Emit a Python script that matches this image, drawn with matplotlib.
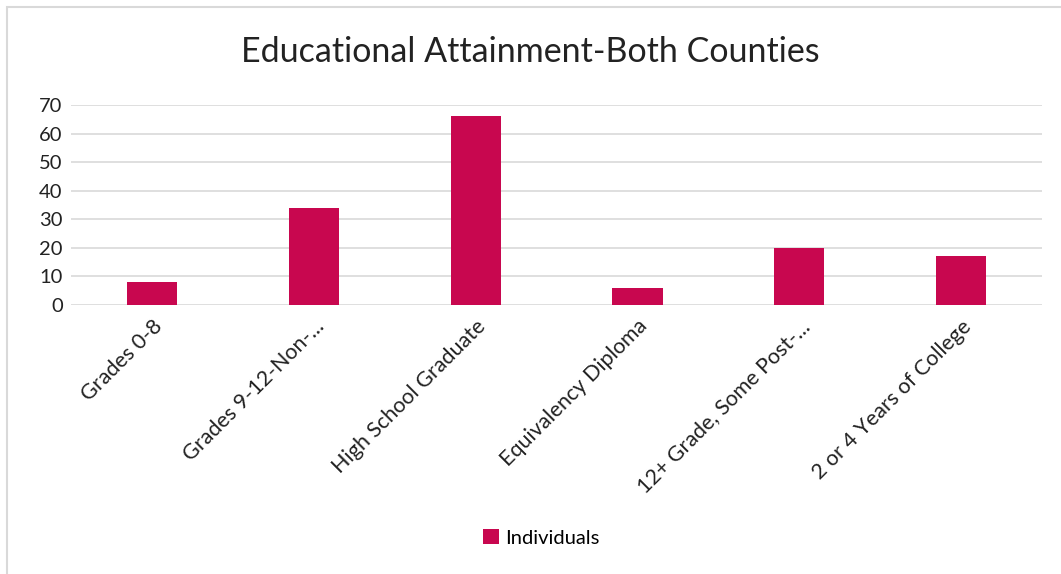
import matplotlib
matplotlib.use("Agg")
import matplotlib.pyplot as plt
from matplotlib.patches import Rectangle

# educational attainment counts, both counties
categories = ["Grades 0-8", "Grades 9-12-Non-...", "High School Graduate",
              "Equivalency Diploma", "12+ Grade, Some Post-...", "2 or 4 Years of College"]
individuals = [8, 34, 66, 6, 20, 17]
y_ticks = [0, 10, 20, 30, 40, 50, 60, 70]

bar_color = "#C8074F"
plt.rcParams["font.family"] = ["Lato", "DejaVu Sans"]

fig = plt.figure(figsize=(10.61, 5.74), dpi=100)
ax = fig.add_axes([0.0669, 0.4686, 0.9153, 0.3484])

x = range(len(categories))
ax.bar(x, individuals, width=0.31, color=bar_color, label="Individuals", zorder=3)

ax.set_xlim(-0.5, len(categories) - 0.5)
ax.set_ylim(0, 70)
ax.set_yticks(y_ticks)
ax.set_yticklabels([str(v) for v in y_ticks], fontsize=14.5, color="#222222")
ax.set_xticks(list(x))
ax.set_xticklabels(categories, rotation=45, ha="right", rotation_mode="anchor",
                   fontsize=15.5, color="#222222")
ax.tick_params(axis="both", length=0, pad=6)
ax.tick_params(axis="x", pad=8)
ax.grid(axis="y", color="#d9d9d9", linewidth=1.2, zorder=0)
for s in ax.spines.values():
    s.set_visible(False)

fig.text(0.5, 0.91, "Educational Attainment-Both Counties", ha="center", va="center",
         fontsize=24.5, color="#222222")

fig.legend(loc="center", bbox_to_anchor=(0.51, 0.063), frameon=False, fontsize=14.5,
           handlelength=0.8, handleheight=0.8, handletextpad=0.3)

# outer chart frame
fig.patches.append(Rectangle((7 / 1061, -0.01), 1.0, 1 - 7 / 574 + 0.01,
                             transform=fig.transFigure, fill=False,
                             edgecolor="#d9d9d9", linewidth=1.5))

fig.savefig("out.png", dpi=100)
